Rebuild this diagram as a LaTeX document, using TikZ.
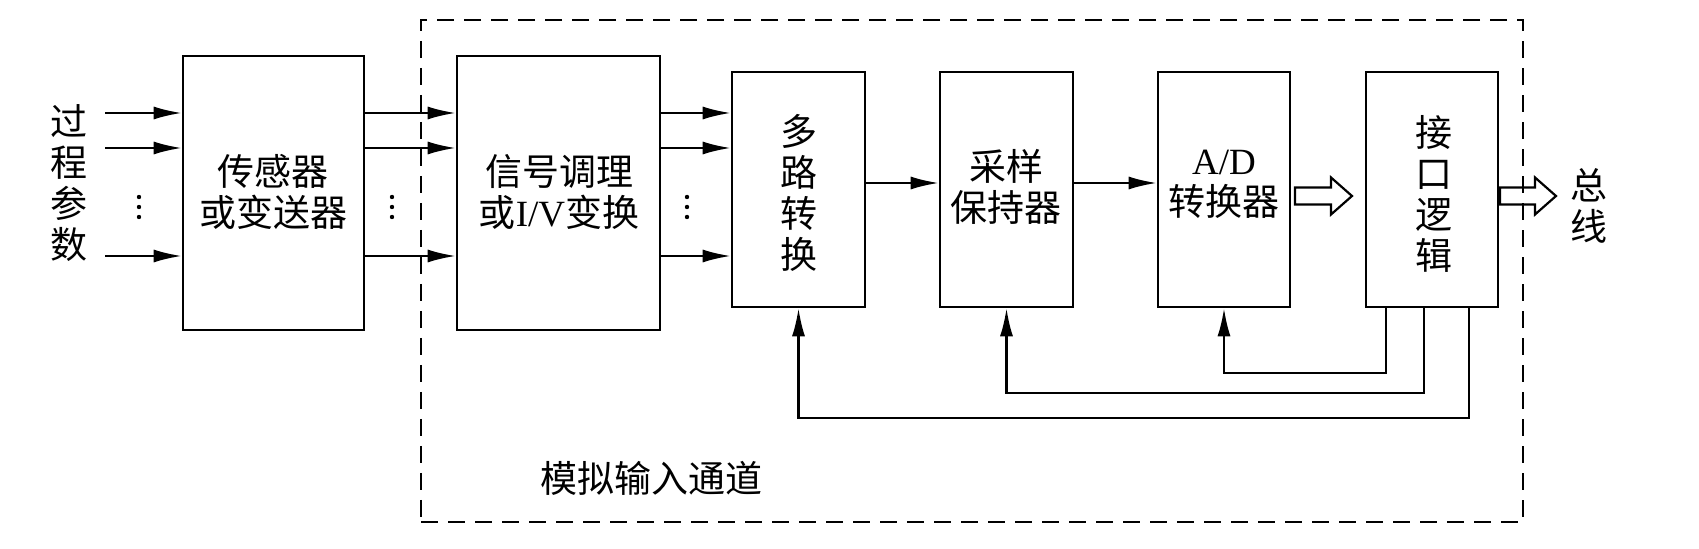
\documentclass[tikz,border=0pt]{standalone}
\usepackage{fontspec}
\setmainfont{Liberation Serif}
\newfontfamily\cjk{Noto Sans CJK SC}
\usetikzlibrary{arrows.meta,fit}
\begin{document}
\begin{tikzpicture}[x=0.5pt,y=-0.5pt,
  blk/.style={draw, line width=1.3pt, inner sep=0pt},
  chan/.style={draw, line width=1.1pt, dash pattern=on 8.5pt off 5pt, inner sep=0pt},
  txt/.style={font=\cjk\fontsize{18.5}{20.5}\selectfont, align=center, inner sep=0pt},
  arr/.style={line width=1.1pt, -{Latex[length=14pt,width=6.5pt]}},
  fb/.style={line width=1.1pt, -{Latex[length=14pt,width=6.5pt]}},
  hol/.style={line width=1.1pt, line join=miter},
  dotc/.style={fill=black}]
\useasboundingbox (0,0) rectangle (1699,549);
% channel frame
\node[chan, fit={(421,20)(1523,522)}] (ch) {};
\node[txt] (tch) at (651,478) {模拟输入通道};
% blocks
\node[blk, fit={(183,56)(364,330)}] (sen) {};
\node[blk, fit={(457,56)(660,330)}] (sig) {};
\node[blk, fit={(732,72)(865,307)}] (mux) {};
\node[blk, fit={(940,72)(1073,307)}] (sh) {};
\node[blk, fit={(1158,72)(1290,307)}] (ad) {};
\node[blk, fit={(1366,72)(1498,307)}] (ifc) {};
% texts
\node[txt] (tp) at (69,183) {过\\程\\参\\数};
\node[txt] (tsen) at (273,192) {传感器\\或变送器};
\node[txt] (tsig) at (559,192) {信号调理\\或{\rmfamily I/V}变换};
\node[txt] (tmux) at (799,193) {多\\路\\转\\换};
\node[txt] (tsh) at (1006,187) {采样\\保持器};
\node[txt] (tad) at (1224,184) {{\rmfamily A/D}\\转换器};
\node[txt] (tifc) at (1434,194) {接\\口\\逻\\辑};
\node[txt] (tbus) at (1589,206) {总\\线};
% dots (vertical ellipsis)
\foreach \x in {139,392,687} {
  \foreach \y in {197,207,217} {
    \fill[dotc] (\x,\y) circle (1.1pt);
  }
}
% input arrows
\coordinate (i1) at (105,113);
\coordinate (i2) at (105,148);
\coordinate (i3) at (105,256);
\foreach \c in {i1,i2,i3} {
  \draw[arr] (\c) -- (\c -| sen.west);
  \draw[arr] (\c -| sen.east) -- (\c -| sig.west);
  \draw[arr] (\c -| sig.east) -- (\c -| mux.west);
}
% middle arrows
\coordinate (m) at (0,183);
\draw[arr] (m -| mux.east) -- (m -| sh.west);
\draw[arr] (m -| sh.east) -- (m -| ad.west);
% hollow arrows
\coordinate (h1) at (1295,196);
\coordinate (h2) at (1500,196);
\draw[hol] (h1) ++(0,-8.5) -- ++(36,0) -- ++(0,-10) -- ++(21,18.5) -- ++(-21,18.5) -- ++(0,-10) -- ++(-36,0) -- cycle;
\draw[hol] (h2) ++(0,-8.5) -- ++(35,0) -- ++(0,-10) -- ++(21,18.5) -- ++(-21,18.5) -- ++(0,-10) -- ++(-35,0) -- cycle;
% feedback
\coordinate (f1) at (1386,373);
\coordinate (f2) at (1424,393);
\coordinate (f3) at (1469,418);
\draw[fb] (f1 |- ifc.south) -- (f1) -- (ad.south |- f1) -- (ad.south);
\draw[fb] (f2 |- ifc.south) -- (f2) -- (sh.south |- f2) -- (sh.south);
\draw[fb] (f3 |- ifc.south) -- (f3) -- (mux.south |- f3) -- (mux.south);
\end{tikzpicture}
\end{document}
